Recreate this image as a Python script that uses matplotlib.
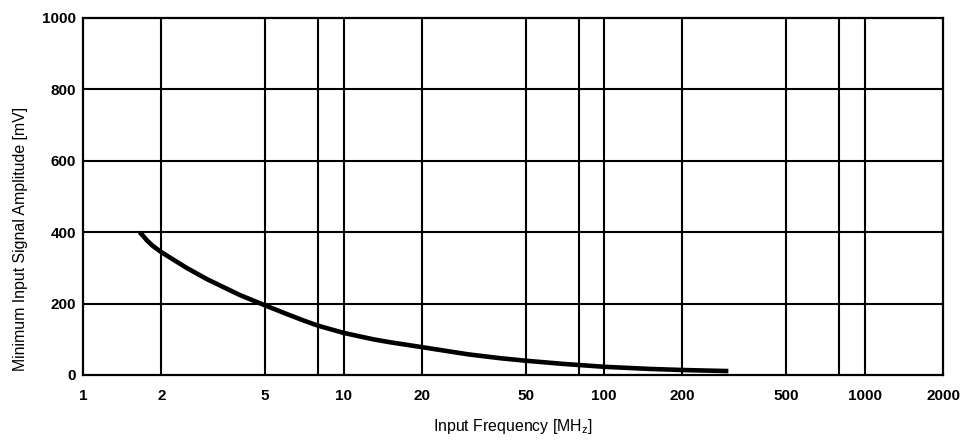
import matplotlib
matplotlib.use("Agg")
import matplotlib.pyplot as plt

# curve
freq_mhz = [1.65, 1.7, 1.76, 1.85, 2, 2.5, 3, 4, 5, 6, 7, 8, 10, 13, 15, 20,
            30, 40, 50, 70, 100, 150, 200, 300]
amp_mv = [400, 390, 377, 362, 344, 300, 268, 224, 195, 172, 153, 138, 118, 100, 92, 78,
          58, 47, 40, 31, 23, 17, 14, 11]

x_ticks = [1, 2, 5, 10, 20, 50, 100, 200, 500, 1000, 2000]
x_grid = [2, 5, 8, 10, 20, 50, 80, 100, 200, 500, 800, 1000]
y_ticks = [0, 200, 400, 600, 800, 1000]

plt.rcParams['font.family'] = ['Liberation Sans', 'DejaVu Sans']

fig = plt.figure(figsize=(9.75, 4.43), dpi=100)
ax = fig.add_axes([0.0851, 0.1535, 0.8821, 0.8059])

# grid lines drawn by hand so 8 / 80 / 800 get lines but no labels
for g in x_grid:
    ax.axvline(g, color='black', lw=1.5, zorder=1)
for g in y_ticks[1:-1]:
    ax.axhline(g, color='black', lw=1.5, zorder=1)

ax.plot(freq_mhz, amp_mv, color='black', lw=3.3, solid_capstyle='butt',
        solid_joinstyle='round', zorder=3)

ax.set_xscale('log')
ax.set_xlim(1, 2000)
ax.set_ylim(0, 1000)
ax.set_xticks(x_ticks)
ax.set_xticklabels([str(t) for t in x_ticks])
ax.minorticks_off()
ax.set_yticks(y_ticks)
ax.tick_params(axis='both', length=0, labelsize=11)
ax.tick_params(axis='x', pad=10)
ax.tick_params(axis='y', pad=5)
for lab in ax.get_xticklabels() + ax.get_yticklabels():
    lab.set_fontweight('bold')

for s in ax.spines.values():
    s.set_linewidth(1.6)

ax.set_xlabel('Input Frequency [MH$_\\mathregular{z}$]', fontsize=11.4, labelpad=10)
ax.set_ylabel('Minimum Input Signal Amplitude [mV]', fontsize=11.4)
ax.yaxis.set_label_coords(-0.064, 0.38)

plt.savefig('out.png', dpi=100)
plt.close()
